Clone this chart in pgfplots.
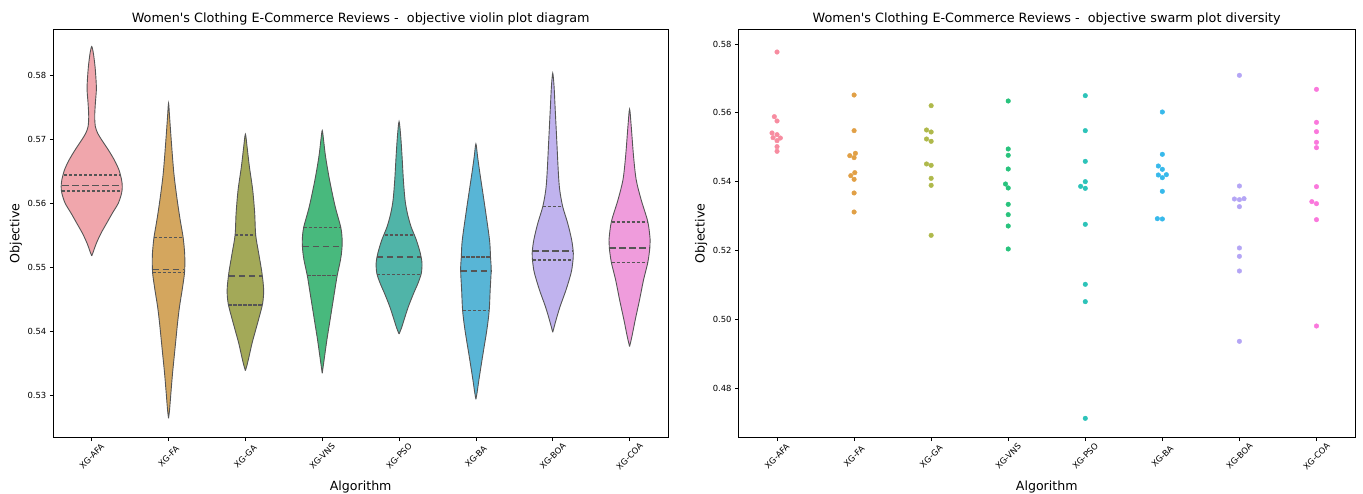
\documentclass[border=0pt]{standalone}
\usepackage{fontspec}
\setmainfont{DejaVu Sans}
\usepackage{pgfplots}
\usepackage{pgfplotstable}
\pgfplotsset{compat=1.18}

\definecolor{vAFA}{RGB}{240,166,172}
\definecolor{vFA}{RGB}{212,166,94}
\definecolor{vGA}{RGB}{163,169,88}
\definecolor{vVNS}{RGB}{72,185,125}
\definecolor{vPSO}{RGB}{80,180,168}
\definecolor{vBA}{RGB}{88,181,214}
\definecolor{vBOA}{RGB}{192,179,238}
\definecolor{vCOA}{RGB}{239,156,220}
\definecolor{dAFA}{RGB}{247,140,160}
\definecolor{dFA}{RGB}{225,160,70}
\definecolor{dGA}{RGB}{175,185,75}
\definecolor{dVNS}{RGB}{40,195,125}
\definecolor{dPSO}{RGB}{45,195,185}
\definecolor{dBA}{RGB}{55,185,235}
\definecolor{dBOA}{RGB}{180,165,245}
\definecolor{dCOA}{RGB}{250,120,220}
\definecolor{vline}{RGB}{85,85,85}

% violin outlines (closed): value y, signed half width w in category units
\pgfplotstableread{
y w
0.55179 0
0.55247 0.0216
0.55377 0.0605
0.55534 0.1210
0.55691 0.1945
0.55847 0.2679
0.56004 0.3457
0.56161 0.3889
0.56265 0.3976
0.56370 0.3889
0.56527 0.3544
0.56683 0.2939
0.56840 0.2161
0.56997 0.1296
0.57101 0.0778
0.57206 0.0475
0.57363 0.0389
0.57572 0.0475
0.57781 0.0605
0.57937 0.0562
0.58146 0.0432
0.58355 0.0216
0.58460 0
0.58355 -0.0216
0.58146 -0.0432
0.57937 -0.0562
0.57781 -0.0605
0.57572 -0.0475
0.57363 -0.0389
0.57206 -0.0475
0.57101 -0.0778
0.56997 -0.1296
0.56840 -0.2161
0.56683 -0.2939
0.56527 -0.3544
0.56370 -0.3889
0.56265 -0.3976
0.56161 -0.3889
0.56004 -0.3457
0.55847 -0.2679
0.55691 -0.1945
0.55534 -0.1210
0.55377 -0.0605
0.55247 -0.0216
0.55179 0
}\tAFA
\pgfplotstableread{
y w
0.52634 0
0.52765 0.0130
0.53026 0.0303
0.53340 0.0519
0.53601 0.0735
0.53862 0.0951
0.54123 0.1167
0.54384 0.1426
0.54646 0.1772
0.54907 0.2074
0.55064 0.2118
0.55220 0.2096
0.55466 0.1901
0.55743 0.1513
0.56056 0.1124
0.56474 0.0691
0.56997 0.0346
0.57363 0.0130
0.57572 0
0.57363 -0.0130
0.56997 -0.0346
0.56474 -0.0691
0.56056 -0.1124
0.55743 -0.1513
0.55466 -0.1901
0.55220 -0.2096
0.55064 -0.2118
0.54907 -0.2074
0.54646 -0.1772
0.54384 -0.1426
0.54123 -0.1167
0.53862 -0.0951
0.53601 -0.0735
0.53340 -0.0519
0.53026 -0.0303
0.52765 -0.0130
0.52634 0
}\tFA
\pgfplotstableread{
y w
0.53381 0
0.53470 0.0216
0.53601 0.0475
0.53810 0.0864
0.54019 0.1340
0.54228 0.1815
0.54437 0.2247
0.54646 0.2377
0.54907 0.2161
0.55220 0.1729
0.55508 0.1340
0.55847 0.1210
0.56213 0.0951
0.56579 0.0519
0.56892 0.0216
0.57086 0
0.56892 -0.0216
0.56579 -0.0519
0.56213 -0.0951
0.55847 -0.1210
0.55508 -0.1340
0.55220 -0.1729
0.54907 -0.2161
0.54646 -0.2377
0.54437 -0.2247
0.54228 -0.1815
0.54019 -0.1340
0.53810 -0.0864
0.53601 -0.0475
0.53470 -0.0216
0.53381 0
}\tGA
\pgfplotstableread{
y w
0.53340 0
0.53601 0.0303
0.53862 0.0605
0.54123 0.0951
0.54384 0.1296
0.54646 0.1642
0.54870 0.1945
0.55116 0.2377
0.55273 0.2550
0.55429 0.2593
0.55623 0.2420
0.55952 0.1685
0.56370 0.0951
0.56736 0.0432
0.56997 0.0173
0.57143 0
0.56997 -0.0173
0.56736 -0.0432
0.56370 -0.0951
0.55952 -0.1685
0.55623 -0.2420
0.55429 -0.2593
0.55273 -0.2550
0.55116 -0.2377
0.54870 -0.1945
0.54646 -0.1642
0.54384 -0.1296
0.54123 -0.0951
0.53862 -0.0605
0.53601 -0.0303
0.53340 0
}\tVNS
\pgfplotstableread{
y w
0.53956 0
0.54045 0.0303
0.54176 0.0648
0.54384 0.1210
0.54594 0.1901
0.54750 0.2463
0.54907 0.2895
0.55064 0.2982
0.55220 0.2766
0.55429 0.2247
0.55638 0.1556
0.55847 0.1080
0.56056 0.0778
0.56370 0.0562
0.56736 0.0389
0.57049 0.0216
0.57284 0
0.57049 -0.0216
0.56736 -0.0389
0.56370 -0.0562
0.56056 -0.0778
0.55847 -0.1080
0.55638 -0.1556
0.55429 -0.2247
0.55220 -0.2766
0.55064 -0.2982
0.54907 -0.2895
0.54750 -0.2463
0.54594 -0.1901
0.54384 -0.1210
0.54176 -0.0648
0.54045 -0.0303
0.53956 0
}\tPSO
\pgfplotstableread{
y w
0.52932 0
0.53052 0.0173
0.53235 0.0389
0.53601 0.0864
0.54019 0.1426
0.54322 0.1729
0.54646 0.1858
0.54959 0.1988
0.55163 0.1901
0.55429 0.1772
0.55952 0.1167
0.56474 0.0519
0.56736 0.0216
0.56934 0
0.56736 -0.0216
0.56474 -0.0519
0.55952 -0.1167
0.55429 -0.1772
0.55163 -0.1901
0.54959 -0.1988
0.54646 -0.1858
0.54322 -0.1729
0.54019 -0.1426
0.53601 -0.0864
0.53235 -0.0389
0.53052 -0.0173
0.52932 0
}\tBA
\pgfplotstableread{
y w
0.53982 0
0.54176 0.0432
0.54384 0.0951
0.54646 0.1729
0.54907 0.2377
0.55064 0.2593
0.55220 0.2679
0.55429 0.2463
0.55691 0.1945
0.55952 0.1296
0.56213 0.0908
0.56474 0.0735
0.56997 0.0519
0.57519 0.0303
0.57833 0.0173
0.58042 0
0.57833 -0.0173
0.57519 -0.0303
0.56997 -0.0519
0.56474 -0.0735
0.56213 -0.0908
0.55952 -0.1296
0.55691 -0.1945
0.55429 -0.2463
0.55220 -0.2679
0.55064 -0.2593
0.54907 -0.2377
0.54646 -0.1729
0.54384 -0.0951
0.54176 -0.0432
0.53982 0
}\tBOA
\pgfplotstableread{
y w
0.53758 0
0.53915 0.0303
0.54176 0.0735
0.54489 0.1296
0.54802 0.1815
0.55079 0.2377
0.55304 0.2636
0.55429 0.2679
0.55712 0.2377
0.56056 0.1513
0.56370 0.0864
0.56736 0.0519
0.57206 0.0216
0.57478 0
0.57206 -0.0216
0.56736 -0.0519
0.56370 -0.0864
0.56056 -0.1513
0.55712 -0.2377
0.55429 -0.2679
0.55304 -0.2636
0.55079 -0.2377
0.54802 -0.1815
0.54489 -0.1296
0.54176 -0.0735
0.53915 -0.0303
0.53758 0
}\tCOA

\pgfplotsset{
  myaxis/.style={
    scale only axis, height=408.4pt,
    xmin=-0.5, xmax=7.5,
    xtick={0,1,2,3,4,5,6,7},
    xticklabels={XG-AFA,XG-FA,XG-GA,XG-VNS,XG-PSO,XG-BA,XG-BOA,XG-COA},
    tick align=outside, xtick pos=left, ytick pos=left,
    major tick length=3.5pt,
    every tick/.style={black, line width=0.8pt},
    axis line style={black, line width=0.9pt},
    tick label style={font=\fontsize{8.4}{10}\selectfont},
    xticklabel style={yshift=-15pt, rotate=45, anchor=center},
    yticklabel style={/pgf/number format/fixed, /pgf/number format/fixed zerofill, /pgf/number format/precision=2, /pgf/number format/assume math mode=true},
    scaled y ticks=false,
    xlabel={Algorithm}, ylabel={Objective},
    label style={font=\fontsize{12.6}{15}\selectfont},
    xlabel style={at={(axis description cs:0.5,0)}, anchor=base, yshift=-52.3pt},
    ylabel style={at={(axis description cs:-0.055,0.5)}, anchor=base},
    title style={font=\fontsize{12.8}{15}\selectfont, at={(axis description cs:0.5,1)}, anchor=base, yshift=0.6pt},
  },
  vio/.style={fill=#1, draw=vline, line width=0.9pt, smooth, tension=0.5},
  quart/.style={vline, line width=1.3pt, dash pattern=on 3.2pt off 1.8pt},
  med/.style={vline, line width=1.3pt, dash pattern=on 6.5pt off 3.5pt},
  dots/.style={only marks, mark=*, mark size=2.3pt, color=#1},
}

\begin{document}
\begin{tikzpicture}
\path[use as bounding box] (-53.3pt,-55.3pt) rectangle (1309.7pt,437.7pt);

\begin{axis}[myaxis, name=A1, at={(0pt,0pt)}, anchor=south west, width=614.7pt,
  ymin=0.5233, ymax=0.5873, ytick={0.53,0.54,0.55,0.56,0.57,0.58},
  title={Women\textquotesingle s Clothing E-Commerce Reviews -\ \ objective violin plot diagram}]
\addplot[vio=vAFA] table[x expr={0+\thisrow{w}}, y=y] {\tAFA};
\addplot[vio=vFA] table[x expr={1+\thisrow{w}}, y=y] {\tFA};
\addplot[vio=vGA] table[x expr={2+\thisrow{w}}, y=y] {\tGA};
\addplot[vio=vVNS] table[x expr={3+\thisrow{w}}, y=y] {\tVNS};
\addplot[vio=vPSO] table[x expr={4+\thisrow{w}}, y=y] {\tPSO};
\addplot[vio=vBA] table[x expr={5+\thisrow{w}}, y=y] {\tBA};
\addplot[vio=vBOA] table[x expr={6+\thisrow{w}}, y=y] {\tBOA};
\addplot[vio=vCOA] table[x expr={7+\thisrow{w}}, y=y] {\tCOA};
% quartiles and medians
\addplot[quart] coordinates {(-0.36,0.56448) (0.36,0.56448)};
\addplot[med] coordinates {(-0.385,0.56286) (0.385,0.56286)};
\addplot[quart] coordinates {(-0.39,0.56197) (0.39,0.56197)};
\addplot[quart] coordinates {(0.812,0.55466) (1.188,0.55466)};
\addplot[med] coordinates {(0.793,0.54970) (1.207,0.54970)};
\addplot[quart] coordinates {(0.794,0.54923) (1.206,0.54923)};
\addplot[quart] coordinates {(1.866,0.55508) (2.134,0.55508)};
\addplot[med] coordinates {(1.786,0.54865) (2.214,0.54865)};
\addplot[quart] coordinates {(1.78,0.54411) (2.22,0.54411)};
\addplot[quart] coordinates {(2.76,0.55623) (3.24,0.55623)};
\addplot[med] coordinates {(2.747,0.55325) (3.253,0.55325)};
\addplot[quart] coordinates {(2.808,0.54870) (3.192,0.54870)};
\addplot[quart] coordinates {(3.812,0.55508) (4.188,0.55508)};
\addplot[med] coordinates {(3.712,0.55163) (4.288,0.55163)};
\addplot[quart] coordinates {(3.712,0.54891) (4.288,0.54891)};
\addplot[quart] coordinates {(4.812,0.55163) (5.188,0.55163)};
\addplot[med] coordinates {(4.804,0.54944) (5.196,0.54944)};
\addplot[quart] coordinates {(4.829,0.54322) (5.171,0.54322)};
\addplot[quart] coordinates {(5.872,0.55952) (6.128,0.55952)};
\addplot[med] coordinates {(5.736,0.55257) (6.264,0.55257)};
\addplot[quart] coordinates {(5.74,0.55116) (6.26,0.55116)};
\addplot[quart] coordinates {(6.765,0.55712) (7.235,0.55712)};
\addplot[med] coordinates {(6.738,0.55304) (7.262,0.55304)};
\addplot[quart] coordinates {(6.765,0.55079) (7.235,0.55079)};
\end{axis}

\begin{axis}[myaxis, at={(685.2pt,0pt)}, anchor=south west, width=616.5pt,
  ymin=0.46555, ymax=0.58427, ytick={0.48,0.50,0.52,0.54,0.56,0.58},
  title={Women\textquotesingle s Clothing E-Commerce Reviews -\ \ objective swarm plot diversity}]
\addplot[dots=dAFA] coordinates {(0,0.57767) (-0.035,0.55888) (0,0.55762) (-0.065,0.55413) (0,0.55364) (-0.052,0.55277) (0.043,0.55267) (0,0.55190) (0,0.55016) (0,0.54880)};
\addplot[dots=dFA] coordinates {(1,0.56517) (1,0.55481) (1.017,0.54822) (0.944,0.54754) (1,0.54696) (1.009,0.54260) (0.957,0.54172) (1,0.54066) (1,0.53669) (1,0.53116)};
\addplot[dots=dGA] coordinates {(2,0.56207) (1.94,0.55500) (2,0.55442) (1.94,0.55238) (2,0.55171) (1.94,0.54512) (2,0.54473) (2,0.54095) (2,0.53892) (2,0.52438)};
\addplot[dots=dVNS] coordinates {(3,0.56343) (3,0.54948) (3,0.54764) (3,0.54366) (2.965,0.53930) (3,0.53814) (3,0.53339) (3,0.53039) (3,0.52709) (3,0.52041)};
\addplot[dots=dPSO] coordinates {(4,0.56498) (4,0.55481) (4,0.54589) (4,0.53998) (3.94,0.53862) (4,0.53804) (4,0.52758) (4,0.51014) (4,0.50510) (4,0.47118)};
\addplot[dots=dBA] coordinates {(5,0.56023) (5,0.54793) (4.948,0.54453) (5,0.54357) (5.052,0.54201) (4.948,0.54192) (5,0.54114) (5,0.53717) (4.935,0.52922) (5,0.52913)};
\addplot[dots=dBOA] coordinates {(6,0.57089) (6,0.53872) (6.06,0.53504) (5.935,0.53494) (6,0.53475) (6,0.53271) (6,0.52070) (6,0.51828) (6,0.51401) (6,0.49357)};
\addplot[dots=dCOA] coordinates {(7,0.56682) (7,0.55723) (7,0.55451) (7,0.55142) (7,0.54986) (7,0.53853) (6.94,0.53417) (7,0.53358) (7,0.52893) (7,0.49802)};
\end{axis}
\end{tikzpicture}
\end{document}
